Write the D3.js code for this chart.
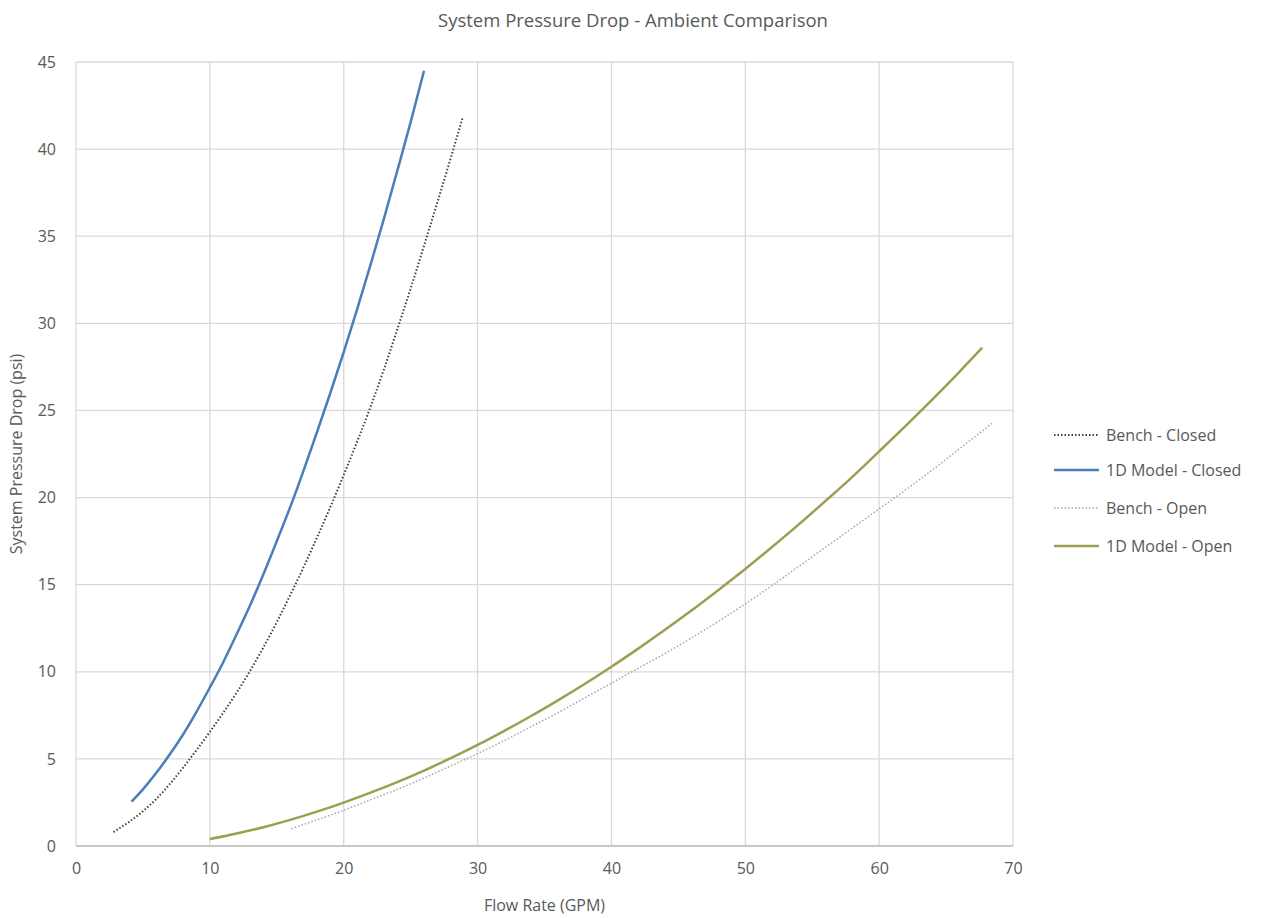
<!DOCTYPE html>
<html><head><meta charset="utf-8">
<script src="https://cdn.jsdelivr.net/npm/d3@7"></script>
<style>
html,body{margin:0;padding:0;background:#fff;}
text{font-family:"Open Sans","Noto Sans",sans-serif;fill:#595959;}
</style></head>
<body><svg id="chart" width="1283" height="918"></svg>
<script>
const xTicks = [0,10,20,30,40,50,60,70];
const yTicks = [0,5,10,15,20,25,30,35,40,45];
const seriesNames = ["Bench - Closed","1D Model - Closed","Bench - Open","1D Model - Open"];

const benchClosedX = [2.8,3,4,5,6,7,8,9,10,11,12,13,14,15,16,17,18,19,20,21,22,23,24,25,26,27,28,28.9];
const benchClosedY = [0.8,0.9,1.4,2.0,2.7,3.55,4.5,5.5,6.55,7.65,8.8,10.05,11.4,12.85,14.4,16.0,17.7,19.45,21.3,23.2,25.2,27.35,29.65,32.0,34.45,36.95,39.5,41.85];

const modelClosedX = [4.15,5,6,7,8,9,10,11,12,13,14,15,16,17,18,19,20,21,22,23,24,25,26];
const modelClosedY = [2.55,3.25,4.2,5.25,6.4,7.7,9.1,10.55,12.15,13.8,15.6,17.5,19.45,21.55,23.75,26.0,28.35,30.8,33.35,36.0,38.75,41.55,44.5];

const benchOpenX = [16.1,18,20,22,24,26,28,30,32,34,36,38,40,42,44,46,48,50,52,54,56,58,60,62,64,66,68.5];
const benchOpenY = [1.0,1.5,2.05,2.65,3.25,3.9,4.6,5.3,6.05,6.85,7.65,8.5,9.35,10.2,11.05,11.95,12.9,13.9,14.95,16.05,17.15,18.25,19.35,20.45,21.6,22.8,24.3];

const modelOpenX = [10,12,14,16,18,20,22,24,26,28,30,32,34,36,38,40,42,44,46,48,50,52,54,56,58,60,62,64,66,67.7];
const modelOpenY = [0.4,0.72,1.08,1.5,1.97,2.49,3.06,3.67,4.33,5.04,5.8,6.61,7.46,8.36,9.3,10.29,11.33,12.41,13.53,14.7,15.9,17.16,18.46,19.81,21.19,22.65,24.13,25.65,27.22,28.6];

const series = [
  {name:seriesNames[0], xs:benchClosedX, ys:benchClosedY, color:"#404040", width:2, dash:"1.5,2"},
  {name:seriesNames[1], xs:modelClosedX, ys:modelClosedY, color:"#4a7ebb", width:2.5, dash:null},
  {name:seriesNames[2], xs:benchOpenX, ys:benchOpenY, color:"#a6a6a6", width:1.5, dash:"1.5,2"},
  {name:seriesNames[3], xs:modelOpenX, ys:modelOpenY, color:"#9e9e52", width:2.5, dash:null}
];

const svg = d3.select("#chart");
const L=76, R=1013, T=62, B=846;
const x = d3.scaleLinear().domain([0,70]).range([L,R]);
const y = d3.scaleLinear().domain([0,45]).range([B,T]);

// gridlines
svg.append("g").selectAll("line").data(xTicks).join("line")
  .attr("x1",d=>x(d)).attr("x2",d=>x(d)).attr("y1",T).attr("y2",B)
  .attr("stroke","#d9d9d9").attr("stroke-width",1.3);
svg.append("g").selectAll("line").data(yTicks).join("line")
  .attr("x1",L).attr("x2",R).attr("y1",d=>y(d)).attr("y2",d=>y(d))
  .attr("stroke","#d9d9d9").attr("stroke-width",1.3);
// bottom axis line
svg.append("line").attr("x1",L).attr("x2",R).attr("y1",B).attr("y2",B)
  .attr("stroke","#bfbfbf").attr("stroke-width",1.5);

// axes
const xAxis = svg.append("g").attr("transform",`translate(0,${B})`)
  .call(d3.axisBottom(x).tickValues(xTicks).tickSize(0).tickPadding(17).tickFormat(d3.format("d")));
xAxis.select(".domain").remove();
xAxis.selectAll("text").style("font-size","16px").style("fill","#595959").attr("font-family",null);

const yAxis = svg.append("g").attr("transform",`translate(${L},0)`)
  .call(d3.axisLeft(y).tickValues(yTicks).tickSize(0).tickPadding(20).tickFormat(d3.format("d")));
yAxis.select(".domain").remove();
yAxis.selectAll("text").style("font-size","16px").style("fill","#595959").attr("font-family",null);

// lines
const lineGen = d3.line().curve(d3.curveMonotoneX);
series.forEach(s=>{
  const pts = s.xs.map((v,i)=>[x(v), y(s.ys[i])]);
  svg.append("path").attr("d",lineGen(pts)).attr("fill","none")
    .attr("stroke",s.color).attr("stroke-width",s.width)
    .attr("stroke-dasharray",s.dash).attr("stroke-linecap","butt");
});

// title
svg.append("text").attr("x",633).attr("y",27).attr("text-anchor","middle")
  .style("font-size","18.5px").text("System Pressure Drop - Ambient Comparison");
// axis titles
svg.append("text").attr("x",(L+R)/2).attr("y",911).attr("text-anchor","middle")
  .style("font-size","16px").text("Flow Rate (GPM)");
svg.append("text").attr("transform",`translate(22,${(T+B)/2}) rotate(-90)`).attr("text-anchor","middle")
  .style("font-size","16px").text("System Pressure Drop (psi)");

// legend
const lg = svg.append("g");
const legY = [435,470,508,546];
series.forEach((s,i)=>{
  lg.append("line").attr("x1",1054).attr("x2",1099).attr("y1",legY[i]).attr("y2",legY[i])
    .attr("stroke",s.color).attr("stroke-width",s.width).attr("stroke-dasharray",s.dash);
  lg.append("text").attr("x",1106).attr("y",legY[i]+6).style("font-size","16px").text(s.name);
});
</script></body></html>
